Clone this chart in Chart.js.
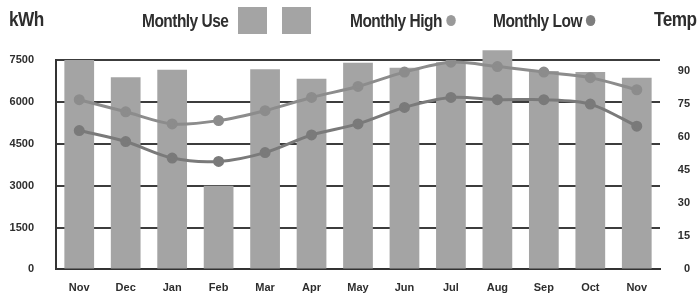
<!DOCTYPE html>
<html>
<head>
<meta charset="utf-8">
<script src="https://cdn.jsdelivr.net/npm/chart.js@4.4.0/dist/chart.umd.min.js"></script>
<style>
  html, body { margin: 0; padding: 0; background: #fff; }
  #wrap { position: relative; width: 698px; height: 298px; overflow: hidden; }
  canvas { position: absolute; left: 0; top: 0; }
  .hd { position: absolute; font-family: "Liberation Sans", Arial, sans-serif; font-weight: bold;
        color: #2e2e2e; white-space: nowrap; line-height: 1; letter-spacing: -0.6px;
        transform: scaleX(0.86); transform-origin: left top; }
  .sq { position: absolute; background: #a4a4a4; }
  .dot { display: inline-block; width: 11px; height: 11px; border-radius: 50%; margin-left: 5px; vertical-align: 1px; }
</style>
</head>
<body>
<div id="wrap">
  <canvas id="chart" width="698" height="298"></canvas>
  <div class="hd" style="left:9px; top:9px; font-size:20px;">kWh</div>
  <div class="hd" style="left:142px; top:12px; font-size:18px;">Monthly Use</div>
  <div class="sq" style="left:238px; top:7px; width:29px; height:27px;"></div>
  <div class="sq" style="left:282px; top:7px; width:29px; height:27px;"></div>
  <div class="hd" style="left:350px; top:12px; font-size:18px;">Monthly High<span class="dot" style="background:#9a9a9a"></span></div>
  <div class="hd" style="left:493px; top:12px; font-size:18px;">Monthly Low<span class="dot" style="background:#7e7e7e"></span></div>
  <div class="hd" style="left:654px; top:9px; font-size:20px;">Temp</div>
</div>
<script>
// values
const months = ['Nov', 'Dec', 'Jan', 'Feb', 'Mar', 'Apr', 'May', 'Jun', 'Jul', 'Aug', 'Sep', 'Oct', 'Nov'];
const monthlyUse = [7500, 6880, 7150, 3000, 7170, 6830, 7400, 7220, 7420, 7850, 7110, 7070, 6860];
const monthlyHigh = [77, 71.5, 66, 67.5, 72, 78, 83, 89.5, 94, 92, 89.5, 87, 81.5];
const monthlyLow = [63, 58, 50.5, 49, 53, 61, 66, 73.5, 78, 77, 77, 75, 65];
const kwhTicks = [0, 1500, 3000, 4500, 6000, 7500];
const tempTicks = [0, 15, 30, 45, 60, 75, 90];

const tickFont = { family: '"Liberation Sans", Arial, sans-serif', size: 11, weight: 'bold' };

new Chart(document.getElementById('chart'), {
    type: 'bar',
    data: {
        labels: months,
        datasets: [
            {
                type: 'line',
                label: 'Monthly High',
                data: monthlyHigh,
                yAxisID: 'yTemp',
                borderColor: '#8c8c8c',
                backgroundColor: '#8c8c8c',
                borderWidth: 3,
                pointRadius: 4,
                tension: 0.3,
                order: 1
            },
            {
                type: 'line',
                label: 'Monthly Low',
                data: monthlyLow,
                yAxisID: 'yTemp',
                borderColor: '#7a7a7a',
                backgroundColor: '#7a7a7a',
                borderWidth: 3,
                pointRadius: 4,
                tension: 0.3,
                order: 1
            },
            {
                label: 'Monthly Use',
                data: monthlyUse,
                yAxisID: 'yKwh',
                backgroundColor: '#a4a4a4',
                categoryPercentage: 1,
                barPercentage: 0.64,
                clip: false,
                order: 2
            }
        ]
    },
    options: {
        responsive: false,
        animation: false,
        layout: { padding: { top: 60, right: 8, left: 0, bottom: 0 } },
        plugins: { legend: { display: false }, tooltip: { enabled: false } },
        scales: {
            x: {
                offset: true,
                grid: { display: false },
                border: { color: '#333', width: 2 },
                ticks: { color: '#2e2e2e', font: tickFont, padding: 4 },
                afterFit: (s) => { s.height = 25; }
            },
            yKwh: {
                position: 'left',
                min: 0,
                max: 7500,
                afterBuildTicks: (s) => { s.ticks = kwhTicks.map(v => ({ value: v })); },
                grid: { color: '#3c3c3c', lineWidth: 2, drawTicks: false },
                border: { color: '#333', width: 2 },
                ticks: { color: '#2e2e2e', font: tickFont, padding: 22, callback: (v) => String(v) },
                afterFit: (s) => { s.width = 56; }
            },
            yTemp: {
                position: 'right',
                min: 0,
                max: 95,
                afterBuildTicks: (s) => { s.ticks = tempTicks.map(v => ({ value: v })); },
                grid: { display: false },
                border: { display: false },
                ticks: { color: '#2e2e2e', font: tickFont, crossAlign: 'far', callback: (v) => String(v) },
                afterFit: (s) => { s.width = 30; }
            }
        }
    }
});
</script>
</body>
</html>
